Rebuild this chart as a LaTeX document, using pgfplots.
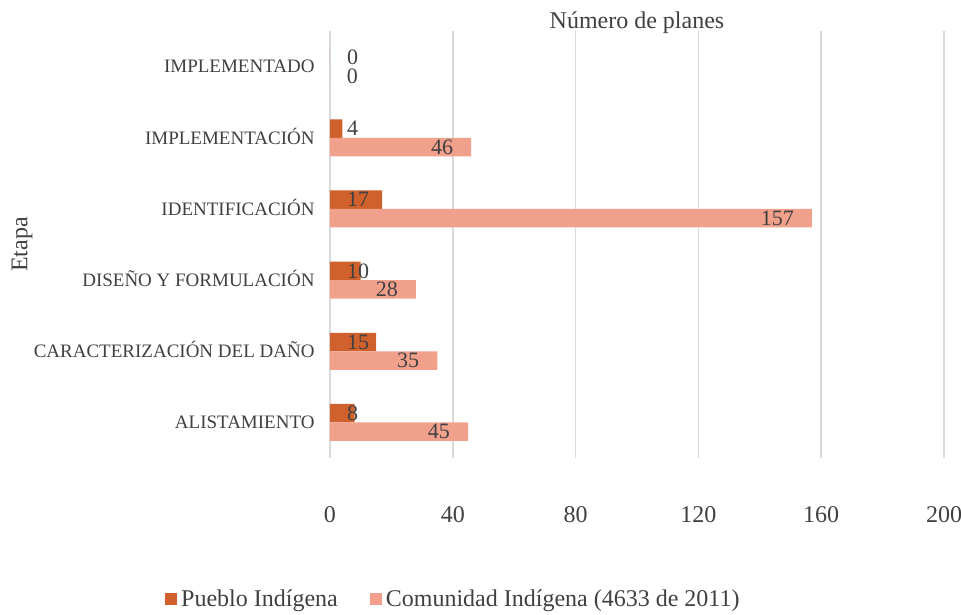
\documentclass[border=0pt]{standalone}
\usepackage{fontspec}
\setmainfont{Liberation Serif}
\usepackage{pgfplots}
\pgfplotsset{compat=1.18}
\definecolor{darkor}{HTML}{D0602C}
\definecolor{lightor}{HTML}{F1A18B}
\definecolor{txt}{HTML}{404040}
\definecolor{gridc}{HTML}{DADADA}
\begin{document}
\begin{tikzpicture}
\begin{axis}[
  scale only axis, width=614pt, height=427pt,
  xmin=0, xmax=200, ymin=-0.5, ymax=5.5,
  xbar, bar width=18.5pt,
  xtick={0,40,...,200}, ytick={0,...,5},
  yticklabels={ALISTAMIENTO, CARACTERIZACIÓN DEL DAÑO, DISEÑO Y FORMULACIÓN, IDENTIFICACIÓN, IMPLEMENTACIÓN, IMPLEMENTADO},
  axis line style={draw=none}, tick style={draw=none},
  xmajorgrids, major grid style={draw=gridc, line width=1.5pt},
  /pgf/number format/assume math mode=true,
  xticklabel style={font=\fontsize{24}{28}\selectfont, text=txt, anchor=north, inner sep=0pt, yshift=-48pt},
  yticklabel style={font=\fontsize{19}{22}\selectfont, text=txt, anchor=base east, inner sep=0pt, xshift=-11pt, yshift=-6.3pt},
  title={Número de planes},
  title style={font=\fontsize{24}{28}\selectfont, text=txt, at={(0.5,1)}, anchor=base, inner sep=0pt, yshift=-3pt},
  ylabel={Etapa},
  ylabel style={font=\fontsize{24}{28}\selectfont, text=txt, at={(axis description cs:-0.5015,0.5)}, anchor=center, inner sep=0pt},
  legend style={at={(axis description cs:-0.2687,-0.330)}, anchor=west, draw=none, fill=none, inner sep=0pt,
    font=\fontsize{24}{28}\selectfont, text=txt,
    /tikz/every odd column/.append style={column sep=2pt},
    /tikz/every even column/.append style={column sep=30pt}},
  legend columns=2, legend cell align=left,
  legend image code/.code={\draw[#1,draw=none] (0pt,-6pt) rectangle (12pt,6pt);},
]
\addplot[fill=darkor, draw=none, bar shift=9.25pt,
  visualization depends on={x \as \rawx},
  nodes near coords,
  nodes near coords style={font=\fontsize{22}{26}\selectfont, text=txt, anchor=west, inner sep=0pt, xshift={(17-3.07*\rawx)*1pt}}]
  coordinates {(8,0) (15,1) (10,2) (17,3) (4,4) (0,5)};
\addlegendentry{Pueblo Indígena}
\addplot[fill=lightor, draw=none, bar shift=-9.25pt,
  visualization depends on={x \as \rawx},
  nodes near coords,
  nodes near coords style={font=\fontsize{22}{26}\selectfont, text=txt, anchor=east, inner sep=0pt, xshift={max(-18,28-3.07*\rawx)*1pt}}]
  coordinates {(45,0) (35,1) (28,2) (157,3) (46,4) (0,5)};
\addlegendentry{Comunidad Indígena (4633 de 2011)}
\end{axis}
\pgfresetboundingbox
\path[use as bounding box] (-330pt,-157pt) rectangle (631pt,458pt);
\end{tikzpicture}
\end{document}
